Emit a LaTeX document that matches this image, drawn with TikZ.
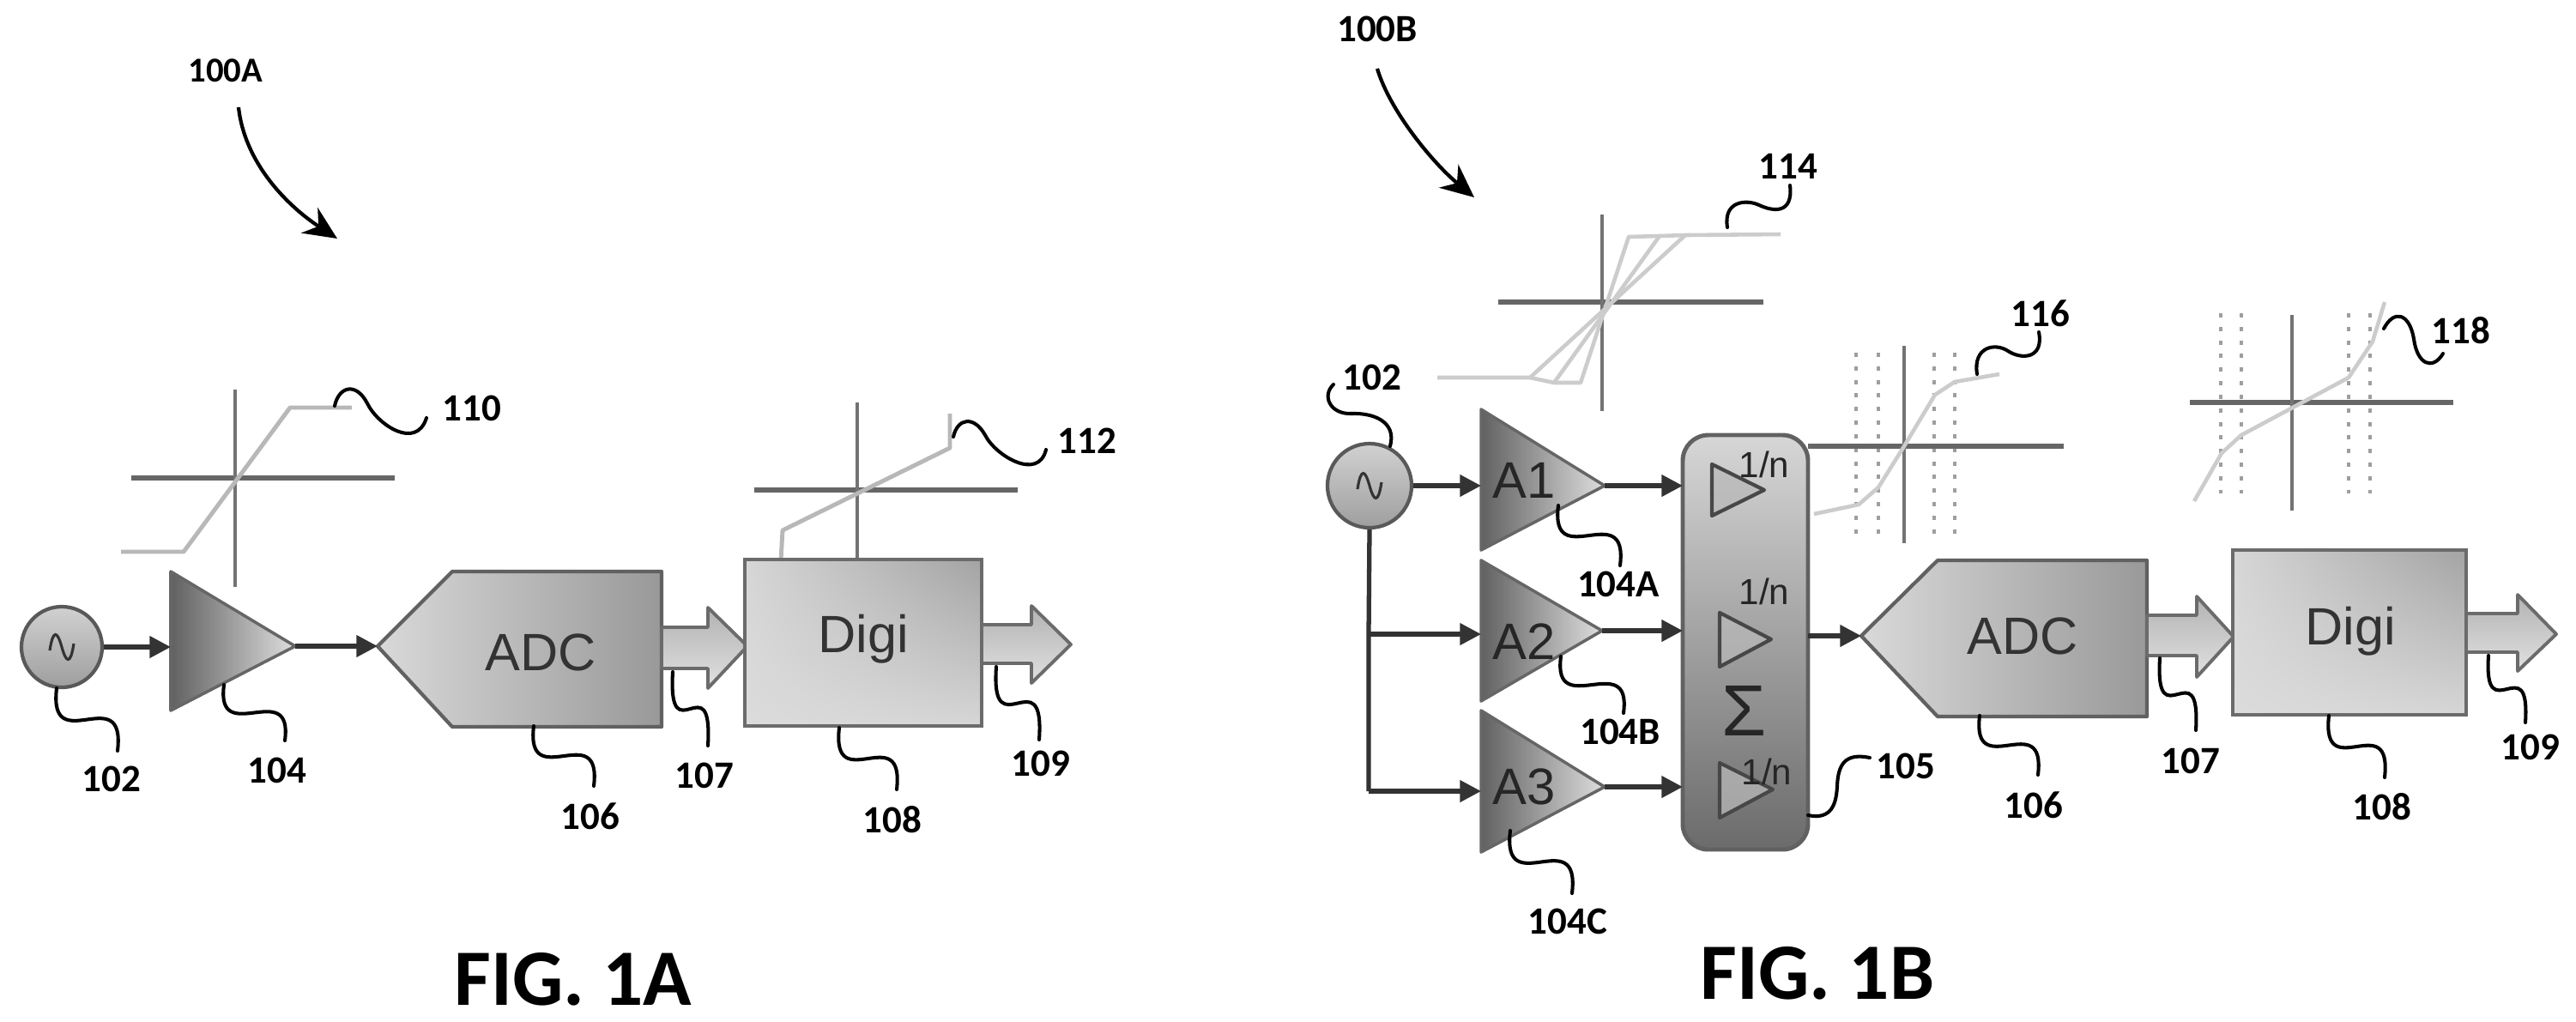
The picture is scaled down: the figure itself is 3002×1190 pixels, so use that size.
\documentclass[tikz,border=0pt]{standalone}
\usepackage{fontspec}
\setmainfont{Carlito}
\newfontfamily\arialf{Liberation Sans}
\usetikzlibrary{arrows.meta,calc,shadings}
\newcommand{\pxfont}[1]{\fontsize{#1}{#1}\selectfont}
\tikzset{
  x=0.01cm,y=-0.01cm,
  wire/.style={line width=1.5pt,draw=black!80,-{Triangle[length=7pt,width=7pt]}},
  bare/.style={line width=1.5pt,draw=black!80},
  lead/.style={line width=1.15pt,draw=black,line cap=round},
  lab/.style={font=\bfseries\pxfont{12.8pt},inner sep=0pt,text=black},
  fig/.style={font=\bfseries\pxfont{26.5pt},inner sep=0pt,text=black},
  big/.style={font=\arialf\pxfont{17.4pt},inner sep=0pt,anchor=base,text=black!80},
  amp/.style={font=\arialf\pxfont{17pt},inner sep=0pt,anchor=base,text=black!85},
  oneon/.style={font=\arialf\pxfont{12pt},inner sep=0pt,text=black!85},
  axish/.style={line width=1.5pt,draw=black!60},
  axisv/.style={line width=1.2pt,draw=black!55},
  trans/.style={line width=1.4pt,draw=black!28,line join=round},
  transb/.style={line width=1.3pt,draw=black!20,line join=round},
  rail/.style={line width=1.3pt,draw=black!38,dash pattern=on 1.4pt off 3.1pt},
  ampfill/.style={left color=black!62,right color=black!13,draw=black!60,line width=1pt,line join=round},
  adcfill/.style={left color=black!15,right color=black!40,draw=black!62,line width=1.2pt,line join=round},
  digifill/.style={lower left=black!14,lower right=black!16,upper left=black!16,upper right=black!36,draw=black!58,line width=1.2pt},
  barfill/.style={top color=black!30,bottom color=black!12,draw=black!58,line width=1.1pt,line join=round},
  srcfill/.style={circle,minimum size=#1,inner sep=0pt,top color=black!18,bottom color=black!38,draw=black!65,line width=1.2pt},
  inner/.style={fill=black!28,fill opacity=.75,draw=black!72,line width=1.2pt,line join=round},
  sine/.style={line width=.9pt,draw=black!80},
}
% S-shaped leader between two named coordinates
\newcommand{\lead}[5]{%
  \coordinate (#1a) at (#2,#3);
  \coordinate (#1b) at (#4,#5);
  \pgfmathsetmacro{\dxx}{#4-#2}\pgfmathsetmacro{\dyy}{#5-#3}
  \draw[lead] (#1a) .. controls +({-0.14*\dxx},{1.15*\dyy}) and +({0.14*\dxx},{-1.15*\dyy}) .. (#1b);}
\newcommand{\sinewave}[2]{%
  \draw[sine] (#1-14,#2+4) .. controls (#1-10,#2-22) and (#1-5,#2-18) .. (#1,#2) .. controls (#1+5,#2+18) and (#1+10,#2+22) .. (#1+14,#2-4);}
\newcommand{\barrow}[9]{% x0 ytop ybot xhead yheadtop yheadbot xtip ytip name
  \shadedraw[barfill] (#1,#2) -- (#4,#2) -- (#4,#5) -- (#7,#8) -- (#4,#6) -- (#4,#3) -- (#1,#3) -- cycle;
  \coordinate (#9) at (#7,#8);}
\newcommand{\ampl}[8]{% name ytop ybot xtip ytip yin ybaseline text
  \coordinate (#1o) at (#4,#5);
  \coordinate (#1i) at (1726,#6);
  \shadedraw[ampfill] (1726,#2) -- (#1o) -- (1726,#3) -- cycle;
  \node[amp] (#1t) at (1776,#7) {#8};}
\begin{document}
\begin{tikzpicture}
\fill[white] (0,0) rectangle (3002,1190);
\useasboundingbox (0,0) rectangle (3002,1190);

%% ---------- FIG 1A ----------
\node[lab,font=\bfseries\pxfont{11.6pt}] (t100A) at (263,82) {100A};
\coordinate (c100A) at (278,125);
\coordinate (d100A) at (393,278);
\draw[line width=1.2pt,-{Stealth[length=11pt,width=10pt]}] (c100A) .. controls (285,190) and (335,240) .. (d100A);

% plot 110
\coordinate (p110l) at (153,557); \coordinate (p110r) at (460,557);
\coordinate (p110t) at (274,454); \coordinate (p110b) at (274,684);
\draw[axish] (p110l) -- (p110r);
\draw[axisv] (p110t) -- (p110b);
\draw[trans] (141,643) -- (214,643) -- (338,475) -- (410,475);

% plot 112
\coordinate (p112l) at (879,571); \coordinate (p112r) at (1186,571);
\coordinate (p112t) at (999,469); \coordinate (p112b) at (999,653);
\draw[axish] (p112l) -- (p112r);
\draw[axisv] (p112t) -- (p112b);
\draw[trans] (910,653) -- (912,618) -- (1107,522) -- (1107,482);

% amplifier 104
\coordinate (a0t) at (199,666); \coordinate (a0b) at (199,828); \coordinate (a0o) at (344,753);
\coordinate (a0i) at (199,754);
\shadedraw[ampfill] (a0t) -- (a0o) -- (a0b) -- cycle;

% ADC
\coordinate (adc0i) at (440,753);
\shadedraw[adcfill] (adc0i) -- (527,666) -- (771,666) -- (771,847) -- (527,847) -- cycle;
\node[big] (adc0) at (630,781) {ADC};

% block arrow 107
\barrow{771}{731}{779}{825}{708}{802}{871}{753}{ba0}

% Digi
\shadedraw[digifill] (868,652) rectangle (1144,846);
\node[big] (digi0) at (1006,760) {Digi};

% block arrow 109
\barrow{1144}{728}{773}{1202}{706}{796}{1248}{751}{bb0}

% source
\node[srcfill=0.94cm] (src0) at (72,754) {};
\sinewave{72}{754}
\draw[wire] (src0.east) -- (a0i);
\draw[wire] (a0o) -- (adc0i);

% leaders and labels 1A
\node[lab] (t102a) at (130,908) {102};
\node[lab] (t104)  at (323,898) {104};
\node[lab] (t106a) at (688,951) {106};
\node[lab] (t107a) at (821,904) {107};
\node[lab] (t108a) at (1040,955) {108};
\node[lab] (t109a) at (1213,890) {109};
\node[lab] (t110)  at (550,476) {110};
\node[lab] (t112)  at (1267,514) {112};
\lead{l102a}{66}{802}{137}{875}
\lead{l104}{261}{798}{332}{863}
\lead{l106a}{622}{846}{692}{916}
\lead{l107a}{784}{783}{825}{869}
\lead{l108a}{978}{848}{1045}{920}
\lead{l109a}{1161}{777}{1211}{862}
\coordinate (l110a) at (390,473); \coordinate (l110b) at (497,487);
\draw[lead] (l110a) .. controls (395,450) and (415,445) .. (428,470) .. controls (440,495) and (485,525) .. (l110b);
\coordinate (l112a) at (1111,509); \coordinate (l112b) at (1219,524);
\draw[lead] (l112a) .. controls (1116,487) and (1135,484) .. (1148,507) .. controls (1160,531) and (1210,561) .. (l112b);

%% ---------- FIG 1B ----------
\node[lab] (t100B) at (1605,34) {100B};
\coordinate (c100B) at (1605,80);
\coordinate (d100B) at (1718,230);
\draw[line width=1.2pt,-{Stealth[length=11pt,width=10pt]}] (c100B) .. controls (1620,130) and (1670,190) .. (d100B);

% plot 114
\coordinate (p114l) at (1746,352); \coordinate (p114r) at (2055,352);
\coordinate (p114t) at (1867,250); \coordinate (p114b) at (1867,479);
\draw[axish] (p114l) -- (p114r);
\draw[axisv] (p114t) -- (p114b);
\draw[transb] (1675,440) -- (1783,440) -- (1964,274) -- (2075,273);
\draw[transb] (1783,440) -- (1811,446) -- (1934,275) -- (1964,274);
\draw[transb] (1811,446) -- (1842,446) -- (1898,276) -- (1934,275);

% plot 116
\coordinate (p116l) at (2107,520); \coordinate (p116r) at (2405,520);
\coordinate (p116t) at (2219,403); \coordinate (p116b) at (2219,633);
\foreach \xx in {2163,2189,2254,2278} \draw[rail] (\xx,411) -- (\xx,624);
\draw[axish] (p116l) -- (p116r);
\draw[axisv] (p116t) -- (p116b);
\draw[transb] (2114,599) -- (2166,588) -- (2189,568) -- (2219,520) -- (2255,460) -- (2278,445) -- (2330,436);

% plot 118
\coordinate (p118l) at (2552,469); \coordinate (p118r) at (2859,469);
\coordinate (p118t) at (2671,367); \coordinate (p118b) at (2671,595);
\foreach \xx in {2588,2612,2737,2762} \draw[rail] (\xx,365) -- (\xx,575);
\draw[axish] (p118l) -- (p118r);
\draw[axisv] (p118t) -- (p118b);
\draw[transb] (2557,584) -- (2589,528) -- (2612,507) -- (2737,440) -- (2765,398) -- (2779,352);

% amplifiers
\ampl{aA}{477}{641}{1870}{566}{566}{580}{A1}
\ampl{aB}{653}{817}{1867}{735}{739}{768}{A2}
\ampl{aC}{828}{993}{1870}{917}{922}{937}{A3}

% summing block
\shadedraw[top color=black!16,bottom color=black!58,draw=black!62,line width=1.4pt,rounded corners=8.5pt] (1961,507) rectangle (2107,990);
\draw[inner] (1995,541) -- (2056,571) -- (1995,601) -- cycle;
\draw[inner] (2004,714) -- (2064,745) -- (2004,777) -- cycle;
\draw[inner] (2004,889) -- (2066,920) -- (2004,953) -- cycle;
\node[oneon] (n1) at (2056,541) {1/n};
\node[oneon] (n2) at (2056,689) {1/n};
\node[oneon] (n3) at (2059,899) {1/n};
\node[font=\arialf\pxfont{24pt},inner sep=0pt,text=black!85] (sig) at (2033,828) {Σ};

% ADC 1B
\coordinate (adc1i) at (2169,741);
\shadedraw[adcfill] (adc1i) -- (2258,653) -- (2502,653) -- (2502,835) -- (2258,835) -- cycle;
\node[big] (adc1) at (2357,762) {ADC};

% block arrow 107
\barrow{2502}{717}{764}{2560}{695}{789}{2603}{742}{ba1}

% Digi 1B
\shadedraw[digifill] (2602,641) rectangle (2874,833);
\node[big] (digi1) at (2739,751) {Digi};

% block arrow 109
\barrow{2874}{715}{760}{2934}{693}{782}{2979}{739}{bb1}

% source 1B
\node[srcfill=0.98cm] (src1) at (1596,566) {};
\sinewave{1596}{566}
\coordinate (jb) at (1595,739);
\coordinate (jc) at (1595,922);
\draw[bare] (src1.south) -- (jb) -- (jc);
\draw[wire] (src1.east) -- (aAi);
\draw[wire] (jb) -- (aBi);
\draw[wire] (jc) -- (aCi);
\coordinate (sA) at (1961,566);
\coordinate (sB) at (1961,735);
\coordinate (sC) at (1961,917);
\draw[wire] (aAo) -- (sA);
\draw[wire] (aBo) -- (sB);
\draw[wire] (aCo) -- (sC);
\coordinate (sO) at (2107,741);
\draw[wire] (sO) -- (adc1i);

% labels and leaders 1B
\node[lab] (t102b) at (1599,440) {102};
\node[lab] (t104A) at (1886,681) {104A};
\node[lab] (t104B) at (1888,853) {104B};
\node[lab] (t104C) at (1827,1074) {104C};
\node[lab] (t105)  at (2221,893) {105};
\node[lab] (t114)  at (2084,194) {114};
\node[lab] (t116)  at (2378,365) {116};
\node[lab] (t118)  at (2868,385) {118};
\node[lab] (t106b) at (2370,938) {106};
\node[lab] (t107b) at (2553,887) {107};
\node[lab] (t108b) at (2776,940) {108};
\node[lab] (t109b) at (2949,871) {109};
\lead{l104A}{1816}{589}{1888}{659}
\lead{l104B}{1819}{765}{1892}{831}
\lead{l104C}{1760}{968}{1832}{1041}
\lead{l106b}{2307}{834}{2375}{903}
\lead{l107b}{2517}{767}{2559}{851}
\lead{l108b}{2714}{834}{2779}{906}
\lead{l109b}{2900}{764}{2943}{842}
\coordinate (l102a2) at (1620,520); \coordinate (l102b2) at (1554,448);
\draw[lead] (l102a2) .. controls (1628,491) and (1600,481) .. (1575,482) .. controls (1550,483) and (1540,461) .. (l102b2);
\coordinate (l105a) at (2107,950); \coordinate (l105b) at (2179,883);
\draw[lead] (l105a) .. controls (2135,956) and (2140,936) .. (2141,916) .. controls (2142,891) and (2150,877) .. (l105b);
\coordinate (l114a) at (2013,265); \coordinate (l114b) at (2086,216);
\draw[lead] (l114a) .. controls (2008,234) and (2035,232) .. (2050,239) .. controls (2065,246) and (2090,251) .. (l114b);
\coordinate (l116a) at (2304,436); \coordinate (l116b) at (2376,387);
\draw[lead] (l116a) .. controls (2299,404) and (2325,399) .. (2340,409) .. controls (2355,419) and (2382,419) .. (l116b);
\coordinate (l118a) at (2778,383); \coordinate (l118b) at (2847,412);
\draw[lead] (l118a) .. controls (2790,360) and (2808,365) .. (2813,395) .. controls (2817,425) and (2835,432) .. (l118b);

%% ---------- captions ----------
\node[fig] (f1a) at (668,1141) {FIG. 1A};
\node[fig] (f1b) at (2118,1134) {FIG. 1B};
\end{tikzpicture}
\end{document}
